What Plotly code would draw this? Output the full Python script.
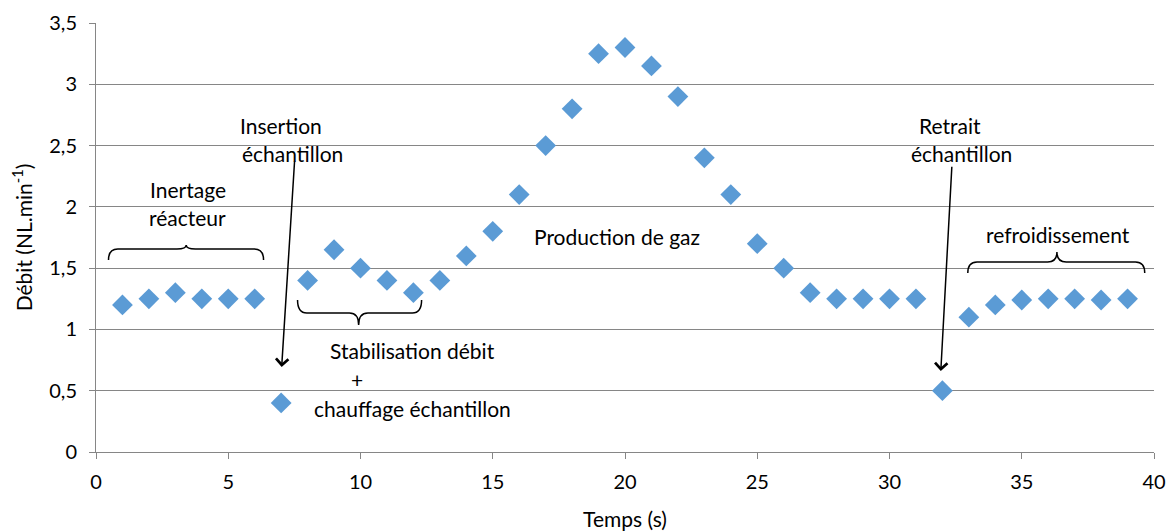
import plotly.graph_objects as go

# Data
temps = list(range(1, 40))
debit = [1.2, 1.25, 1.3, 1.25, 1.25, 1.25, 0.4, 1.4, 1.65, 1.5, 1.4, 1.3, 1.4, 1.6, 1.8,
         2.1, 2.5, 2.8, 3.25, 3.3, 3.15, 2.9, 2.4, 2.1, 1.7, 1.5, 1.3, 1.25, 1.25, 1.25,
         1.25, 0.5, 1.1, 1.2, 1.24, 1.25, 1.25, 1.24, 1.25]

x_ticks = [0, 5, 10, 15, 20, 25, 30, 35, 40]
y_ticks = [0, 0.5, 1, 1.5, 2, 2.5, 3, 3.5]

# Text labels: (text, x, y)
labels = [
    ("Insertion", 6.98, 2.643),
    ("échantillon", 7.43, 2.407),
    ("Inertage", 3.46, 2.121),
    ("réacteur", 3.46, 1.885),
    ("Production de gaz", 19.69, 1.73),
    ("Stabilisation débit", 11.97, 0.80),
    ("+", 9.85, 0.571),
    ("chauffage échantillon", 11.97, 0.334),
    ("Retrait", 32.28, 2.643),
    ("échantillon", 32.73, 2.407),
    ("refroidissement", 36.37, 1.754),
]

# Arrows: (tail_x, tail_y, tip_x, tip_y)
arrows = [
    (7.51, 2.382, 7.02, 0.694),
    (32.36, 2.34, 31.94, 0.66),
]

# Braces: (x0, x1, xc, y_end, y_line, y_cusp)
braces = [
    (0.473, 6.335, 3.41, 1.566, 1.656, 1.689),
    (7.62, 12.31, 9.93, 1.240, 1.134, 1.036),
    (32.96, 39.65, 36.33, 1.460, 1.550, 1.632),
]

FONT = "Lato"
fig = go.Figure()
fig.add_trace(go.Scatter(
    x=temps, y=debit, mode="markers",
    marker=dict(symbol="diamond", size=16, color="#5B9BD5"),
    showlegend=False, hoverinfo="x+y",
))

for txt, x, y in labels:
    fig.add_annotation(x=x, y=y, text=txt, showarrow=False, yshift=3,
                       font=dict(family=FONT, size=21, color="#000"),
                       xanchor="center", yanchor="middle")

for tx, ty, hx, hy in arrows:
    fig.add_annotation(x=hx, y=hy, ax=tx, ay=ty, xref="x", yref="y",
                       axref="x", ayref="y", text="", showarrow=True,
                       arrowhead=4, arrowsize=1.6, arrowwidth=1.5,
                       arrowcolor="#000")

for x0, x1, xc, ye, yl, yc in braces:
    d = 0.35
    path = (f"M{x0},{ye} Q{x0},{yl} {x0+d},{yl} L{xc-d},{yl} "
            f"Q{xc},{yl} {xc},{yc} Q{xc},{yl} {xc+d},{yl} "
            f"L{x1-d},{yl} Q{x1},{yl} {x1},{ye}")
    fig.add_shape(type="path", path=path, xref="x", yref="y",
                  line=dict(color="#000", width=1.5))

# page body has an 8px margin, so the figure is sized/offset to compensate
fig.update_layout(
    width=1166, height=524,
    margin=dict(l=88, r=20, t=15, b=80),
    plot_bgcolor="white", paper_bgcolor="white",
    separators=", ",
    font=dict(family=FONT, size=20, color="#000"),
    xaxis=dict(range=[0, 40], tickvals=x_ticks, showgrid=False, zeroline=False,
               showline=True, linecolor="#868686", linewidth=1, automargin=False,
               ticks="outside", ticklen=6, tickcolor="#868686",
               tickfont=dict(size=20), ticklabelstandoff=6,
               title=dict(text="Temps (s)", font=dict(size=21), standoff=20)),
    yaxis=dict(range=[0, 3.5], tickvals=y_ticks, showgrid=True,
               gridcolor="#868686", gridwidth=1, zeroline=False,
               showline=True, linecolor="#868686", linewidth=1, automargin=False,
               ticks="outside", ticklen=6, tickcolor="#868686",
               tickfont=dict(size=20), ticklabelstandoff=8,
               title=dict(text="Débit (NL.min<sup>-1</sup>)", font=dict(size=21), standoff=12)),
)

fig.write_html("out.html")
